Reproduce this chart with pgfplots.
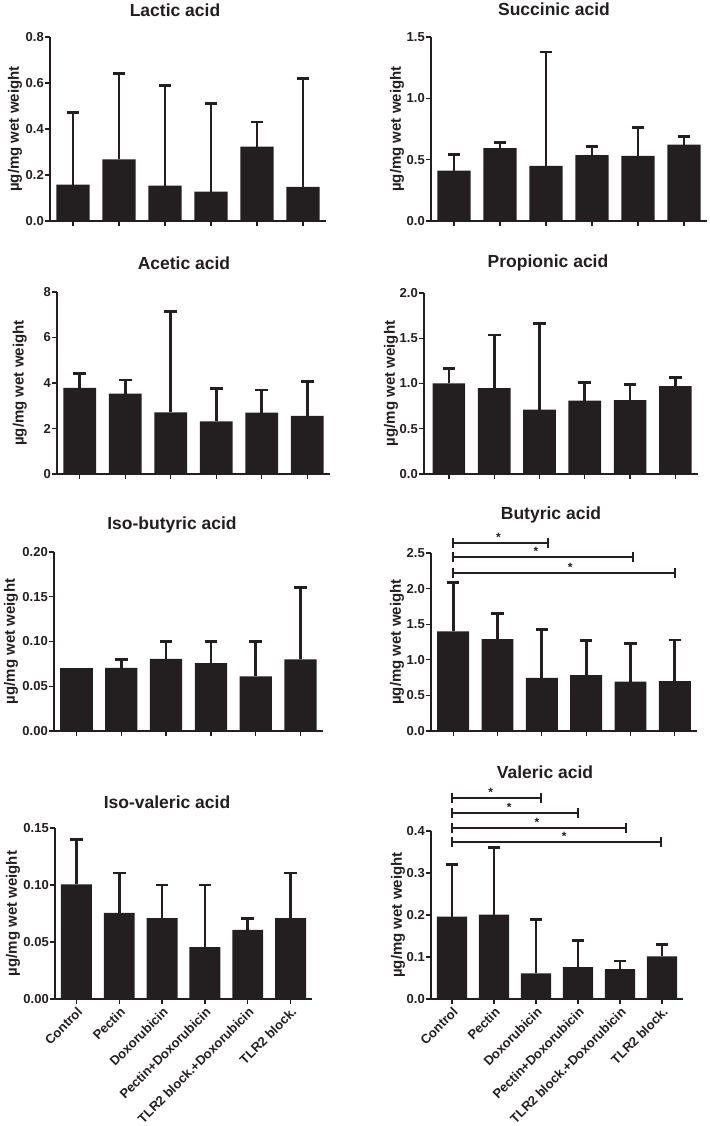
\documentclass[border=0pt]{standalone}
\usepackage{fontspec}
\setmainfont{Liberation Sans}
\usepackage{pgfplots}
\pgfplotsset{compat=1.18}
\definecolor{barc}{RGB}{35,31,32}
\pgfplotsset{
  panel/.style={
    scale only axis, anchor=south west,
    axis lines=left, axis line style={-, line width=1.3pt, barc},
    tick align=outside, major tick length=5pt,
    major tick style={line width=1.3pt, barc},
    xmin=-0.5, xmax=5.5, ymin=0,
    xtick={0,...,5}, xticklabels={},
    ybar, bar width=0.72, bar shift=0pt,
    clip=false,
    tick label style={font=\fontsize{13}{14}\selectfont\bfseries, text=barc},
    y tick label style={inner xsep=1pt},
    /pgf/number format/assume math mode=true,
    ylabel={µg/mg wet weight},
    ylabel style={font=\fontsize{15}{16}\selectfont\bfseries, anchor=center, text=barc},
  },
  prec/.style={yticklabel style={/pgf/number format/fixed, /pgf/number format/fixed zerofill, /pgf/number format/precision=#1}},
  ylab/.style={ylabel style={at={(axis description cs:#1,0.5)}}},
  bottomlabels/.style={xticklabels={Control, Pectin, Doxorubicin, Pectin+Doxorubicin, TLR2 block.+Doxorubicin, TLR2 block.},
    x tick label style={rotate=45, anchor=north east, inner sep=1.5pt}},
  plainbars/.style={fill=barc, draw=none},
  mybars/.style={fill=barc, draw=none, error bars/.cd, y dir=plus, y explicit,
    error bar style={line width=2.8pt, draw=barc, solid},
    error mark options={rotate=90, line width=2.8pt, mark size=6.3pt, draw=barc, solid}},
  bracket/.style={sharp plot, line width=2pt, color=barc, mark=|, mark size=5pt, mark options={line width=2pt, solid}},
}
\tikzset{star/.style={font=\fontsize{12}{12}\selectfont\bfseries, text=barc, anchor=base, yshift=1.5pt, inner sep=0pt},
  ttl/.style={font=\fontsize{17.5}{18}\selectfont\bfseries, text=barc}}
\begin{document}
\begin{tikzpicture}
\useasboundingbox (0pt,0pt) rectangle (709pt,1126pt);
% Lactic
\begin{axis}[panel, at={(50pt,905pt)}, width=276pt, height=184pt, ymax=0.8, ytick={0,0.2,...,0.8}, prec=1, ylab=-0.127]
\addplot[mybars] coordinates {(0,0.158) +- (0,0.312) (1,0.268) +- (0,0.372) (2,0.154) +- (0,0.436) (3,0.128) +- (0,0.382) (4,0.323) +- (0,0.107) (5,0.148) +- (0,0.472)};
\end{axis}
% Succinic
\begin{axis}[panel, at={(431pt,905pt)}, width=276pt, height=184pt, ymax=1.5, ytick={0,0.5,1.0,1.5}, prec=1, ylab=-0.123]
\addplot[mybars] coordinates {(0,0.41) +- (0,0.13) (1,0.593) +- (0,0.047) (2,0.45) +- (0,0.927) (3,0.536) +- (0,0.074) (4,0.53) +- (0,0.23) (5,0.623) +- (0,0.066)};
\end{axis}
% Acetic
\begin{axis}[panel, at={(57pt,652pt)}, width=273pt, height=182pt, ymax=8, ytick={0,2,4,6,8}, prec=0, ylab=-0.136]
\addplot[mybars] coordinates {(0,3.78) +- (0,0.62) (1,3.53) +- (0,0.60) (2,2.71) +- (0,4.45) (3,2.31) +- (0,1.44) (4,2.70) +- (0,0.99) (5,2.55) +- (0,1.51)};
\end{axis}
% Propionic
\begin{axis}[panel, at={(424pt,652pt)}, width=274pt, height=181pt, xmin=-0.55, ymax=2.0, ytick={0,0.5,1.0,1.5,2.0}, prec=1, ylab=-0.12]
\addplot[mybars] coordinates {(0,1.00) +- (0,0.17) (1,0.95) +- (0,0.585) (2,0.71) +- (0,0.95) (3,0.81) +- (0,0.20) (4,0.815) +- (0,0.175) (5,0.97) +- (0,0.10)};
\end{axis}
% Iso-butyric
\begin{axis}[panel, at={(54pt,395pt)}, width=269pt, height=179pt, ymax=0.2, ytick={0,0.05,0.10,0.15,0.20}, prec=2, ylab=-0.160]
\addplot[plainbars] coordinates {(0,0.0705)};
\addplot[mybars] coordinates {(1,0.0705) +- (0,0.0095) (2,0.0805) +- (0,0.0195) (3,0.0757) +- (0,0.0243) (4,0.061) +- (0,0.039) (5,0.080) +- (0,0.08)};
\end{axis}
% Butyric
\begin{axis}[panel, at={(431pt,395pt)}, width=266pt, height=178pt, ymax=2.5, ytick={0,0.5,1.0,1.5,2.0,2.5}, prec=1, ylab=-0.128]
\addplot[mybars] coordinates {(0,1.40) +- (0,0.69) (1,1.29) +- (0,0.36) (2,0.746) +- (0,0.674) (3,0.784) +- (0,0.486) (4,0.695) +- (0,0.53) (5,0.70) +- (0,0.577)};
\addplot[bracket] coordinates {(0,2.64) (2.15,2.64)};
\addplot[bracket] coordinates {(0,2.44) (4.05,2.44)};
\addplot[bracket] coordinates {(0,2.22) (5.0,2.22)};
\node[star] at (axis cs:1.02,2.64) {*};
\node[star] at (axis cs:1.87,2.44) {*};
\node[star] at (axis cs:2.64,2.22) {*};
\end{axis}
% Iso-valeric
\begin{axis}[panel, bottomlabels, at={(55pt,127pt)}, width=257pt, height=171pt, ymax=0.15, ytick={0,0.05,0.10,0.15}, prec=2, ylab=-0.163]
\addplot[mybars] coordinates {(0,0.1006) +- (0,0.0394) (1,0.0756) +- (0,0.035) (2,0.0709) +- (0,0.0291) (3,0.0456) +- (0,0.0544) (4,0.0606) +- (0,0.0097) (5,0.0709) +- (0,0.0397)};
\end{axis}
% Valeric
\begin{axis}[panel, bottomlabels, at={(431pt,127pt)}, width=252pt, height=168pt, ymax=0.4, ytick={0,0.1,0.2,0.3,0.4}, prec=1, ylab=-0.131]
\addplot[mybars] coordinates {(0,0.196) +- (0,0.125) (1,0.2008) +- (0,0.159) (2,0.061) +- (0,0.129) (3,0.076) +- (0,0.064) (4,0.071) +- (0,0.0195) (5,0.1016) +- (0,0.0284)};
\addplot[bracket] coordinates {(0,0.479) (2.12,0.479)};
\addplot[bracket] coordinates {(0,0.443) (3.0,0.443)};
\addplot[bracket] coordinates {(0,0.407) (4.14,0.407)};
\addplot[bracket] coordinates {(0,0.374) (4.98,0.374)};
\node[star] at (axis cs:0.92,0.479) {*};
\node[star] at (axis cs:1.36,0.443) {*};
\node[star] at (axis cs:2.02,0.407) {*};
\node[star] at (axis cs:2.67,0.374) {*};
\end{axis}
% Titles
\node[ttl] at (175pt,1116pt) {Lactic acid};
\node[ttl] at (554pt,1117pt) {Succinic acid};
\node[ttl] at (184pt,863pt) {Acetic acid};
\node[ttl] at (548pt,863pt) {Propionic acid};
\node[ttl] at (172pt,601pt) {Iso-butyric acid};
\node[ttl] at (551pt,611pt) {Butyric acid};
\node[ttl] at (167pt,324pt) {Iso-valeric acid};
\node[ttl] at (545pt,354pt) {Valeric acid};
\end{tikzpicture}
\end{document}
